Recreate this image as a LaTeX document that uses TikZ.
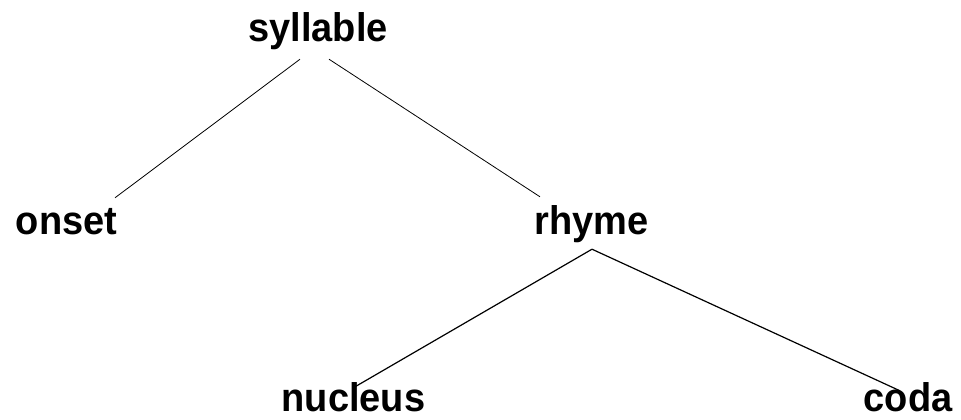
\documentclass[tikz,border=0pt]{standalone}
\usepackage{fontspec}
\setmainfont[FakeStretch=0.95]{Liberation Sans}
\usepackage{tikz}

\tikzset{
  syl/.style={font=\bfseries\fontsize{40}{41}\selectfont, anchor=base,
    inner sep=0pt, text height=28pt, text depth=8pt},
  branch/.style={draw=black, line width=0.8pt},
  thick branch/.style={draw=black, line width=1.2pt}
}

\begin{document}
\begin{tikzpicture}[x=1pt, y=-1pt]
  \useasboundingbox (0,0) rectangle (961,420);
  % Define nodes
  \node[syl] (syllable) at (318,42) {syllable};
  \node[syl] (onset) at (66.5,234) {onset};
  \node[syl] (rhyme) at (591.5,234) {rhyme};
  \node[syl] (nucleus) at (353.5,411) {nucleus};
  \node[syl] (coda) at (908,411) {coda};
  % Branches
  \draw[branch] ([xshift=-18pt,yshift=-9pt]syllable.south)
    -- ([xshift=48.5pt,yshift=8pt]onset.north);
  \draw[branch] ([xshift=11pt,yshift=-9pt]syllable.south)
    -- ([xshift=-51.5pt,yshift=9pt]rhyme.north);
  \draw[thick branch] ([xshift=0.5pt,yshift=-7pt]rhyme.south)
    -- ([xshift=1.5pt,yshift=-4pt]nucleus.north);
  \draw[thick branch] ([xshift=0.5pt,yshift=-7pt]rhyme.south)
    -- ([xshift=-8pt,yshift=-8pt]coda.north);
\end{tikzpicture}
\end{document}
